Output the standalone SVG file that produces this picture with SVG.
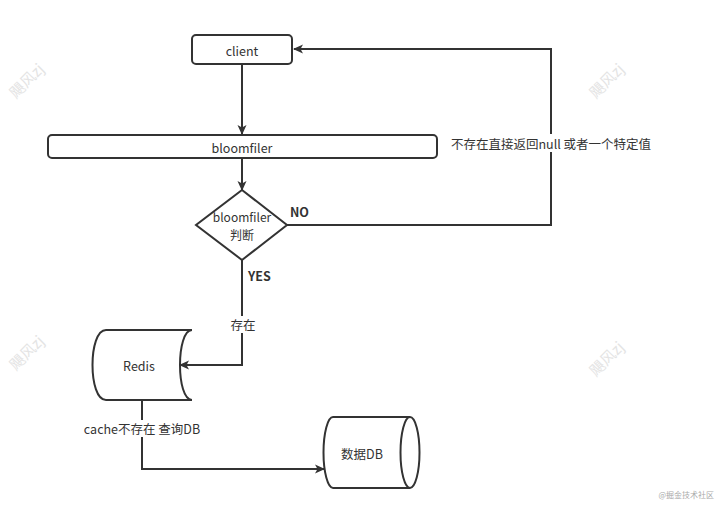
<svg xmlns="http://www.w3.org/2000/svg" width="724" height="511" viewBox="0 0 724 511">
<defs>
<style>
.shape{fill:#fff;stroke:#333;stroke-width:2}
.line{fill:none;stroke:#333;stroke-width:2}
.t{font-family:"Microsoft YaHei","Noto Sans CJK SC","Noto Sans",sans-serif;font-size:12.5px;fill:#333;text-anchor:middle;dominant-baseline:central}
.b{font-weight:bold;text-anchor:start}
.wm{font-family:"Noto Sans CJK SC",sans-serif;font-size:15px;fill:#e4e4e4;text-anchor:middle;dominant-baseline:central}
.lbl{fill:#fff}
</style>
<marker id="arr" viewBox="0 0 10 10" refX="9" refY="5" markerWidth="10" markerHeight="10" markerUnits="userSpaceOnUse" orient="auto">
<path d="M0,0.5 L10,5 L0,9.5 L2.5,5 Z" fill="#333"/>
</marker>
</defs>
<rect width="724" height="511" fill="#fff"/>
<g id="watermarks">
<text class="wm" transform="translate(26,80) rotate(-45)">飓风zj</text>
<text class="wm" transform="translate(606,80) rotate(-45)">飓风zj</text>
<text class="wm" transform="translate(26,352) rotate(-45)">飓风zj</text>
<text class="wm" transform="translate(606,358) rotate(-45)">飓风zj</text>
</g>
<g id="connectors">
<path class="line" d="M242,64 V134" marker-end="url(#arr)"/>
<path class="line" d="M242,158 V190" marker-end="url(#arr)"/>
<path class="line" d="M287,225 H551 V49 H294" marker-end="url(#arr)"/>
<path class="line" d="M242,260 V365 H180" marker-end="url(#arr)"/>
<path class="line" d="M142,400 V469 H324" marker-end="url(#arr)"/>
<rect class="lbl" x="444" y="134" width="214" height="18"/>
<text class="t" x="551" y="143">不存在直接返回null 或者一个特定值</text>
<text class="t b" x="290" y="211">NO</text>
<text class="t b" x="248" y="275">YES</text>
<rect class="lbl" x="228" y="316" width="30" height="17"/>
<text class="t" x="243" y="324">存在</text>
<rect class="lbl" x="79" y="420" width="127" height="17"/>
<text class="t" x="142" y="428">cache不存在 查询DB</text>
</g>
<g id="client">
<rect class="shape" x="192" y="35" width="100" height="29" rx="4"/>
<text class="t" x="242" y="50">client</text>
</g>
<g id="bloomfiler">
<rect class="shape" x="48" y="135" width="389" height="23" rx="4"/>
<text class="t" x="242" y="147">bloomfiler</text>
</g>
<g id="decision">
<path class="shape" d="M242,190 L287,225 L242,260 L196,225 Z"/>
<text class="t" x="242" y="216" style="font-size:12px">bloomfiler</text>
<text class="t" x="242" y="234" style="font-size:12px">判断</text>
</g>
<g id="redis">
<path class="shape" d="M106,330 H192 C176,330 176,400 192,400 H106 C88,400 88,330 106,330 Z"/>
<text class="t" x="139" y="365">Redis</text>
</g>
<g id="db">
<path class="shape" d="M333,417 H410 A9.5,35.5 0 0 1 410,488 H333 A9.5,35.5 0 0 1 333,417 Z"/>
<path class="line" d="M410,417 A9.5,35.5 0 0 0 410,488"/>
<text class="t" x="362" y="453">数据DB</text>
</g>
<text x="714" y="498" style="font-family:'Noto Sans CJK SC',sans-serif;font-size:8px;fill:#aaa;text-anchor:end">@掘金技术社区</text>
</svg>
